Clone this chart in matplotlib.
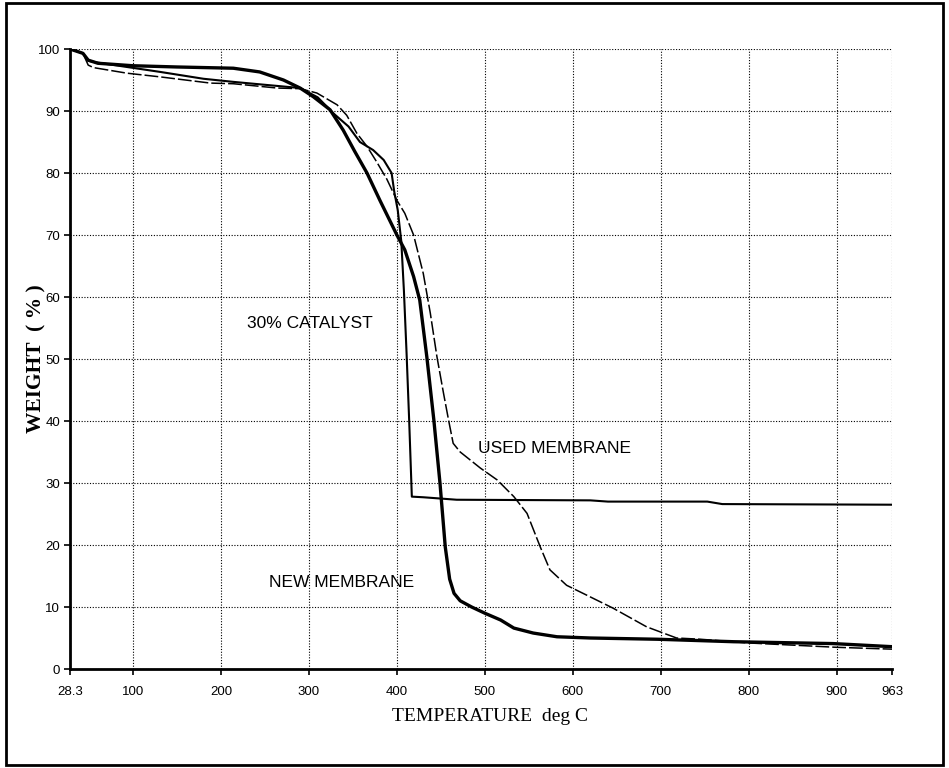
import matplotlib
matplotlib.use("Agg")
import matplotlib.pyplot as plt
from matplotlib.patches import Rectangle
from matplotlib import font_manager

# ---- data ----
x_ticks = [28.3, 100, 200, 300, 400, 500, 600, 700, 800, 900, 963]
x_tick_labels = ["28.3", "100", "200", "300", "400", "500", "600", "700", "800", "900", "963"]
y_ticks = [0, 10, 20, 30, 40, 50, 60, 70, 80, 90, 100]

new_T = [28.3, 43, 49, 60, 100, 150, 214, 244, 271, 290, 305, 324, 339, 352, 366, 381,
         400, 409, 419, 426, 434, 442, 449, 455, 460, 465, 472, 485, 500, 518, 533, 555,
         582, 620, 696, 783, 896, 963]
new_W = [100, 99.3, 98.2, 97.7, 97.3, 97.1, 96.9, 96.3, 95.0, 93.7, 92.3, 90.2, 86.9, 83.5, 80.0, 75.5,
         70.0, 67.6, 63.3, 59.5, 50.4, 40.2, 30.0, 19.7, 14.5, 12.2, 11.0, 10.0, 9.0, 7.9, 6.6, 5.8,
         5.2, 5.0, 4.8, 4.4, 4.1, 3.6]

cat_T = [28.3, 43, 49, 60, 93, 131, 180, 214, 252, 275, 290, 310, 328, 345, 358, 373,
         385, 394, 397, 401, 405, 408, 411, 414, 417, 430, 468, 620, 640, 753, 770, 963]
cat_W = [100, 99.3, 98.1, 97.8, 97.1, 96.3, 95.2, 94.7, 94.2, 93.9, 93.7, 92.2, 89.6, 87.5, 85.0, 83.7,
         82.1, 80.0, 77.0, 74.0, 69.0, 61.0, 51.0, 40.0, 27.8, 27.7, 27.3, 27.2, 27.0, 27.0, 26.6, 26.5]

used_T = [28.3, 43, 49, 55, 93, 131, 188, 214, 264, 290, 309, 332, 343, 354.5, 366, 377,
          388.6, 400, 409, 419, 430, 438, 445.5, 453, 458.7, 464, 472, 495, 514, 533, 548,
          563, 574, 593, 616, 646, 684, 718, 745, 800, 900, 963]
used_W = [100, 99.3, 97.4, 97.0, 96.1, 95.5, 94.5, 94.4, 93.7, 93.6, 92.9, 91.0, 89.3, 86.4, 84.3, 81.8,
          79.0, 75.6, 73.5, 70.0, 63.8, 57.4, 50.4, 44.5, 40.2, 36.4, 35.0, 32.4, 30.5, 27.8, 25.1,
          19.7, 16.0, 13.5, 11.9, 9.8, 6.8, 5.0, 4.8, 4.2, 3.5, 3.2]

labels = ["30% CATALYST", "USED MEMBRANE", "NEW MEMBRANE"]
label_T = [301, 579, 337]
label_W = [55.8, 35.5, 13.9]

# ---- pick a condensed sans font if one is installed ----
installed = {f.name for f in font_manager.fontManager.ttflist}
narrow_font = None
for cand in ["Liberation Sans Narrow", "DejaVu Sans Condensed", "Arial Narrow"]:
    if cand in installed:
        narrow_font = cand
        break
if narrow_font is not None:
    narrow = [narrow_font, "DejaVu Sans"]
    label_size, tick_size = 14, 10
else:
    narrow = ["Liberation Sans", "DejaVu Sans"]
    label_size, tick_size = 12.5, 9.5
serif = ["Liberation Serif", "DejaVu Serif"]

# ---- figure ----
W_px, H_px = 949, 768
fig = plt.figure(figsize=(W_px / 100, H_px / 100), dpi=100)
fig.patches.append(Rectangle((6 / W_px, 3 / H_px), 937 / W_px, 762 / H_px,
                             transform=fig.transFigure, fill=False,
                             edgecolor="black", linewidth=2))

ax = fig.add_axes([70 / W_px, 1 - 669 / H_px, 822 / W_px, 620 / H_px])
ax.set_xlim(28.3, 963)
ax.set_ylim(0, 100)

ax.plot(new_T, new_W, color="black", lw=2.4, solid_joinstyle="round", zorder=4)
ax.plot(cat_T, cat_W, color="black", lw=1.5, zorder=3)
ax.plot(used_T, used_W, color="black", lw=1.1, dashes=(9, 2), zorder=3)

ax.set_xticks(x_ticks)
ax.set_xticklabels(x_tick_labels, fontfamily=narrow, fontsize=tick_size)
ax.set_yticks(y_ticks)
ax.set_yticklabels([str(v) for v in y_ticks], fontfamily=narrow, fontsize=tick_size)
ax.tick_params(axis="x", direction="out", length=4, width=1.2, pad=8)
ax.tick_params(axis="y", direction="out", length=4, width=1.2, pad=3)

ax.grid(True, color="black", linestyle=(0, (1, 1.5)), linewidth=0.8)
ax.set_axisbelow(True)
for s in ["top", "right"]:
    ax.spines[s].set_visible(False)
for s in ["left", "bottom"]:
    ax.spines[s].set_linewidth(2)

ax.set_xlabel("TEMPERATURE  deg C", fontfamily=serif, fontsize=14)
ax.xaxis.set_label_coords(0.511, -0.063)
ax.set_ylabel("WEIGHT  ( % )", fontfamily=serif, fontsize=15.5, fontweight="bold")
ax.yaxis.set_label_coords(-0.029, 0.50)

for t, x, y in zip(labels, label_T, label_W):
    ax.text(x, y, t, fontfamily=narrow, fontsize=label_size, ha="center", va="center")

fig.savefig("out.png", dpi=100)
